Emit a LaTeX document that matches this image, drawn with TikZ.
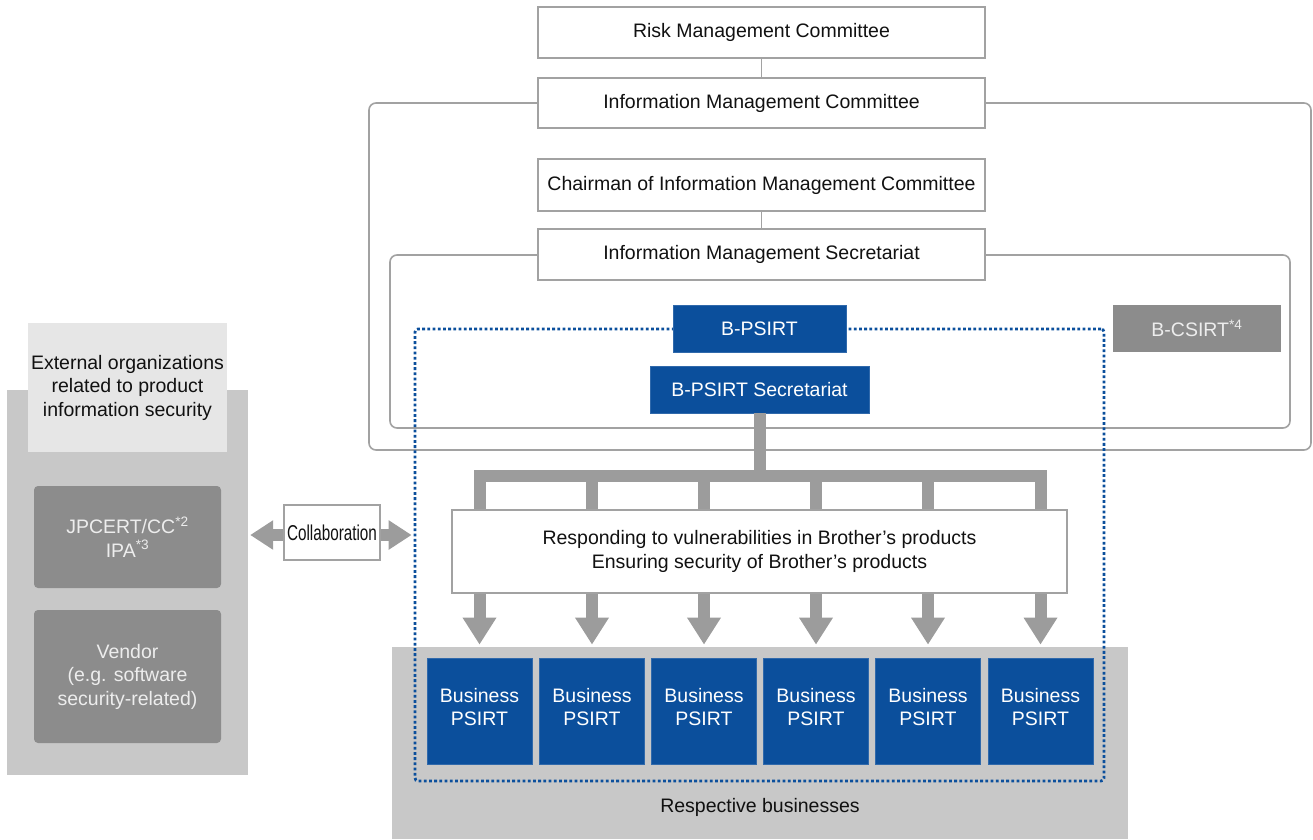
\documentclass[tikz,border=0pt]{standalone}
\usepackage{fontspec}
\setmainfont{Liberation Sans}
\usepackage{graphicx}
\usetikzlibrary{arrows.meta}
\definecolor{bblue}{HTML}{0B4F9C}
\definecolor{lgray}{HTML}{A2A2A2}
\definecolor{panelgray}{HTML}{C8C8C8}
\definecolor{headgray}{HTML}{E6E6E6}
\definecolor{dgray}{HTML}{8C8C8C}
\definecolor{arrowgray}{HTML}{9C9C9C}
\definecolor{txt}{HTML}{111111}
\definecolor{ltxt}{HTML}{EDEDED}
\tikzset{
  every node/.style={font=\fontsize{19.5}{23.5}\selectfont, text=txt, inner sep=0pt, align=center},
  whitebox/.style={draw=lgray, line width=1.4pt, fill=white, minimum width=447pt, minimum height=51pt},
  bluebox/.style={fill=bblue, draw=bblue!85!white, line width=0.8pt, text=white},
  darkbox/.style={fill=dgray, text=ltxt, rounded corners=4pt},
  thinline/.style={draw=lgray, line width=1.4pt},
  frame/.style={draw=lgray, line width=1.6pt, rounded corners=7pt},
  trunk/.style={draw=arrowgray, line width=12pt},
  bigarrow/.style={trunk, -{Triangle[length=27pt,width=32pt]}},
  dblarrow/.style={trunk, {Triangle[length=23pt,width=28pt]}-{Triangle[length=23pt,width=28pt]}},
  dotzone/.style={draw=bblue, line width=2.8pt, dash pattern=on 2.8pt off 2.4pt, rounded corners=3pt},
  bizbox/.style={bluebox, minimum width=105pt, minimum height=106pt}
}
\begin{document}
\begin{tikzpicture}[x=1pt,y=-1pt]
\useasboundingbox (0,0) rectangle (1313,839);

% frames
\draw[frame] (369,103) rectangle (1311,450);
\draw[frame] (390,255) rectangle (1290,428);

% left side
\node[fill=panelgray, minimum width=241pt, minimum height=385pt] (extpanel) at (127.5,582.5) {};
\node[fill=headgray, minimum width=199pt, minimum height=129pt] (exthead) at (127.5,387.5)
  {External organizations\\related to product\\information security};
\node[darkbox, minimum width=187pt, minimum height=102pt] (jpcert) at (127.5,537)
  {JPCERT/CC\textsuperscript{*2}\\IPA\textsuperscript{*3}};
\node[darkbox, minimum width=187pt, minimum height=133pt] (vendor) at (127.5,676.5)
  {Vendor\\(e.g. software\\security-related)};

% respective businesses area
\node[fill=panelgray, minimum width=736pt, minimum height=192pt] (respbiz) at (760,743) {};
\node (resplabel) at (760,807) {Respective businesses};

% dotted PSIRT zone
\node[dotzone, minimum width=689pt, minimum height=452pt] (psirtzone) at (759.5,555) {};

% committee chain
\node[whitebox] (rmc) at (761.5,32.5) {Risk Management Committee};
\node[whitebox, minimum height=50pt] (imc) at (761.5,103) {Information Management Committee};
\draw[thinline] (rmc.south) -- (imc.north);
\node[whitebox, minimum height=52pt] (chair) at (761.5,185) {Chairman of Information Management Committee};
\node[whitebox] (ims) at (761.5,254.5) {Information Management Secretariat};
\draw[thinline] (chair.south) -- (ims.north);

% PSIRT boxes
\node[bluebox, minimum width=173pt, minimum height=47pt] (bpsirt) at (759.5,328.5) {B-PSIRT};
\node[bluebox, minimum width=219pt, minimum height=47pt] (bsec) at (759.5,389.5) {B-PSIRT Secretariat};
\node[fill=dgray, text=ltxt, minimum width=168pt, minimum height=47pt] (bcsirt) at (1197,328.5) {B-CSIRT\textsuperscript{*4}};

% response box
\node[draw=lgray, line width=1.4pt, fill=white, minimum width=615pt, minimum height=83pt] (resp) at (759.5,551.5)
  {Responding to vulnerabilities in Brother’s products\\Ensuring security of Brother’s products};

% business PSIRTs
\foreach \i/\x in {1/479.5,2/592,3/704,4/816,5/928,6/1040.5}{
  \node[bizbox] (bp\i) at (\x,711) {Business\\PSIRT\\[-15.5pt]\mbox{}};
  \coordinate (t\i) at (\x,476);
}

% trunk connectors
\coordinate (hub) at (bsec.south |- t1);
\draw[trunk] (bsec.south) -- (hub);
\draw[trunk, line cap=rect] (t1) -- (t6);
\foreach \i in {1,...,6}{
  \draw[trunk] (t\i) -- (t\i |- resp.north);
  \draw[bigarrow] (bp\i |- resp.south) -- ([yshift=13pt]bp\i.north);
}

% collaboration
\coordinate (cl) at (extpanel.east |- 0,535);
\coordinate (cr) at (psirtzone.west |- 0,535);
\draw[dblarrow] ([xshift=2pt]cl) -- ([xshift=-2pt]cr);
\node[draw=lgray, line width=1.4pt, fill=white, minimum width=96pt, minimum height=55pt] (collab) at (332,532.5)
  {\fontsize{21.5}{24}\selectfont\scalebox{0.71}[1]{Collaboration}};
\end{tikzpicture}
\end{document}
